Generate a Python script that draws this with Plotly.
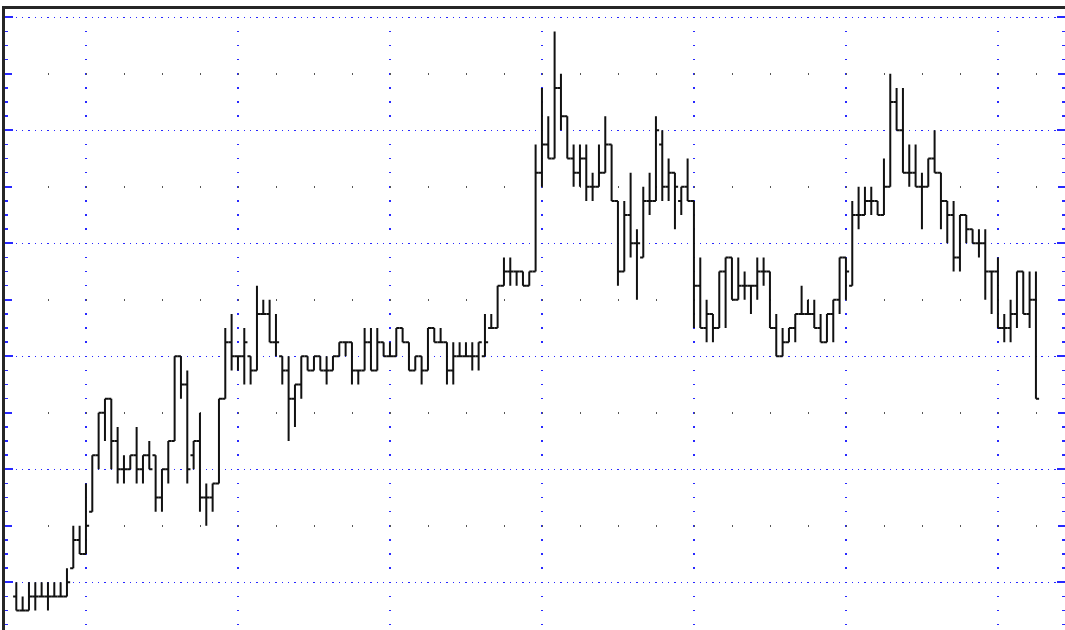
import plotly.graph_objects as go

# bar index (one bar per period)
bar_index = list(range(162))

# price levels (units = one minor tick)
open_ = [-1, -2, -2, -1, -1, -1, -1, -1, -1, 1, 3, 2, 5, 9, 12, 13, 10, 8, 8, 9,
         8, 9, 9, 6, 8, 10, 16, 14, 9, 10, 6, 6, 7, 13, 17, 16, 16, 16, 15, 19,
         19, 17, 16, 15, 13, 14, 16, 15, 16, 15, 15, 16, 17, 17, 15, 15, 17, 15, 17, 16,
         16, 18, 17, 15, 16, 15, 18, 17, 17, 15, 16, 16, 16, 16, 16, 18, 18, 21, 22, 22,
         22, 21, 22, 29, 31, 30, 35, 33, 30, 29, 30, 28, 28, 29, 31, 27, 22, 26, 24, 23,
         27, 27, 31, 28, 29, 27, 28, 27, 21, 18, 19, 18, 22, 23, 20, 21, 21, 21, 22, 22,
         18, 16, 17, 18, 19, 19, 19, 18, 17, 19, 20, 23, 21, 26, 26, 27, 27, 26, 28, 34,
         32, 29, 29, 28, 28, 30, 29, 27, 26, 23, 26, 25, 24, 24, 22, 22, 18, 18, 19, 22,
         19, 20]
high = [0, -1, 0, 0, 0, 0, 0, 0, 1, 4, 4, 7, 9, 12, 13, 13, 11, 9, 9, 11,
        9, 10, 9, 8, 10, 16, 16, 15, 10, 12, 7, 7, 13, 18, 19, 16, 18, 16, 21, 20,
        20, 19, 16, 16, 14, 16, 16, 16, 16, 16, 16, 17, 17, 17, 15, 18, 18, 18, 17, 17,
        18, 18, 17, 16, 16, 18, 18, 18, 17, 17, 17, 17, 17, 17, 19, 19, 21, 23, 23, 22,
        22, 22, 31, 35, 33, 39, 36, 33, 31, 31, 31, 29, 31, 33, 31, 27, 27, 29, 25, 28,
        29, 33, 32, 30, 29, 28, 30, 27, 23, 20, 19, 22, 23, 23, 23, 22, 21, 23, 23, 22,
        19, 18, 18, 19, 21, 20, 20, 19, 19, 20, 23, 23, 27, 28, 28, 28, 27, 30, 36, 35,
        35, 31, 31, 29, 30, 32, 29, 27, 27, 26, 26, 25, 25, 25, 22, 23, 19, 20, 22, 22,
        22, 22]
low = [-2, -2, -2, -2, -1, -2, -1, -1, -1, 1, 2, 2, 5, 8, 10, 8, 7, 7, 8, 7,
       7, 8, 5, 5, 7, 10, 13, 7, 8, 5, 4, 5, 7, 13, 15, 15, 14, 14, 15, 19,
       17, 16, 14, 10, 11, 13, 15, 15, 15, 14, 15, 16, 16, 14, 14, 15, 15, 15, 16, 16,
       16, 17, 15, 15, 14, 15, 17, 17, 14, 14, 16, 16, 15, 15, 16, 18, 18, 21, 21, 21,
       21, 21, 22, 28, 30, 30, 32, 30, 28, 28, 27, 27, 28, 29, 27, 21, 22, 23, 20, 23,
       26, 27, 27, 27, 25, 26, 27, 18, 18, 17, 17, 18, 18, 20, 20, 20, 19, 20, 21, 18,
       16, 16, 17, 17, 19, 19, 18, 17, 17, 17, 19, 20, 21, 25, 26, 26, 26, 26, 28, 32,
       29, 28, 28, 25, 28, 29, 25, 24, 22, 22, 24, 24, 23, 20, 19, 18, 17, 17, 18, 19,
       18, 13]
close = [-2, -2, -1, -1, -1, -1, -1, -1, 0, 3, 2, 4, 9, 12, 13, 10, 8, 8, 9, 8,
         9, 8, 6, 8, 10, 16, 14, 8, 10, 6, 6, 7, 13, 17, 16, 16, 17, 15, 19, 19,
         17, 17, 15, 13, 14, 16, 15, 16, 15, 15, 16, 17, 17, 15, 15, 17, 15, 17, 16, 16,
         18, 17, 15, 16, 15, 18, 17, 17, 15, 16, 16, 16, 16, 17, 17, 18, 21, 22, 22, 22,
         21, 22, 29, 31, 30, 35, 33, 30, 29, 30, 28, 28, 29, 31, 27, 22, 26, 24, 24, 27,
         27, 32, 28, 29, 28, 28, 27, 21, 18, 19, 18, 22, 23, 20, 21, 21, 21, 22, 22, 18,
         16, 17, 18, 19, 19, 19, 18, 17, 19, 20, 23, 22, 26, 26, 27, 27, 26, 28, 34, 32,
         29, 29, 28, 28, 30, 29, 27, 26, 23, 26, 25, 24, 24, 22, 22, 18, 18, 19, 22, 19,
         20, 13]

BLUE = "rgb(40,40,255)"
RANGE_Y = [-3.377, 40.588]
RANGE_X = [-1.784, 165.59]

fig = go.Figure()
fig.add_trace(go.Ohlc(
    x=bar_index, open=open_, high=high, low=low, close=close,
    tickwidth=0.5,
    increasing=dict(line=dict(color="#111111", width=2)),
    decreasing=dict(line=dict(color="#111111", width=2)),
    hoverinfo="skip", showlegend=False,
))
# empty helper traces so the overlay tick/grid axes are always built
fig.add_trace(go.Scatter(x=[], y=[], yaxis="y2", showlegend=False, hoverinfo="skip"))
fig.add_trace(go.Scatter(x=[], y=[], yaxis="y3", showlegend=False, hoverinfo="skip"))

fig.update_layout(
    width=1065, height=630,
    margin=dict(l=5, r=0, t=9, b=0, pad=0),
    paper_bgcolor="white", plot_bgcolor="white",
    showlegend=False,
    xaxis=dict(
        range=RANGE_X, side="top", showline=True, linewidth=3, linecolor="#262626",
        ticks="", showticklabels=False, zeroline=False,
        showgrid=True, tick0=11, dtick=24, gridcolor=BLUE, gridwidth=1.5,
        griddash="0px,7.55px,1.5px,5.075px",
        rangeslider=dict(visible=False), fixedrange=True,
    ),
    yaxis=dict(
        range=RANGE_Y, showline=True, linewidth=3, linecolor="#262626", mirror=False,
        ticks="inside", ticklen=8, tickwidth=2, tickcolor=BLUE,
        tick0=0, dtick=8, showticklabels=False, zeroline=False,
        showgrid=True, gridcolor=BLUE, gridwidth=1.5,
        griddash="0px,4.22px,1.5px,0.613px",
        minor=dict(tick0=0, dtick=1, ticks="inside", ticklen=3, tickwidth=1.5,
                   tickcolor=BLUE, showgrid=False),
        fixedrange=True,
    ),
    yaxis2=dict(
        overlaying="y", anchor="x", range=RANGE_Y, showline=False, mirror="ticks",
        ticks="inside", ticklen=7, tickwidth=2, tickcolor=BLUE,
        tick0=4, dtick=8, showticklabels=False, zeroline=False,
        showgrid=True, gridcolor="#555555", gridwidth=1.5,
        griddash="0px,4.55px,1.5px,31.95px",
        fixedrange=True,
    ),
    yaxis3=dict(
        overlaying="y", anchor="x", side="right", range=RANGE_Y, showline=False,
        ticks="inside", ticklen=8, tickwidth=2, tickcolor=BLUE,
        tick0=0, dtick=8, showticklabels=False, zeroline=False, showgrid=False,
        minor=dict(tick0=0, dtick=1, ticks="inside", ticklen=3, tickwidth=1.5,
                   tickcolor=BLUE, showgrid=False),
        fixedrange=True,
    ),
)

fig.write_html(
    "out.html",
    config={"displayModeBar": False, "staticPlot": True},
    post_script="document.body.style.margin='0';document.body.style.overflow='hidden';",
)
